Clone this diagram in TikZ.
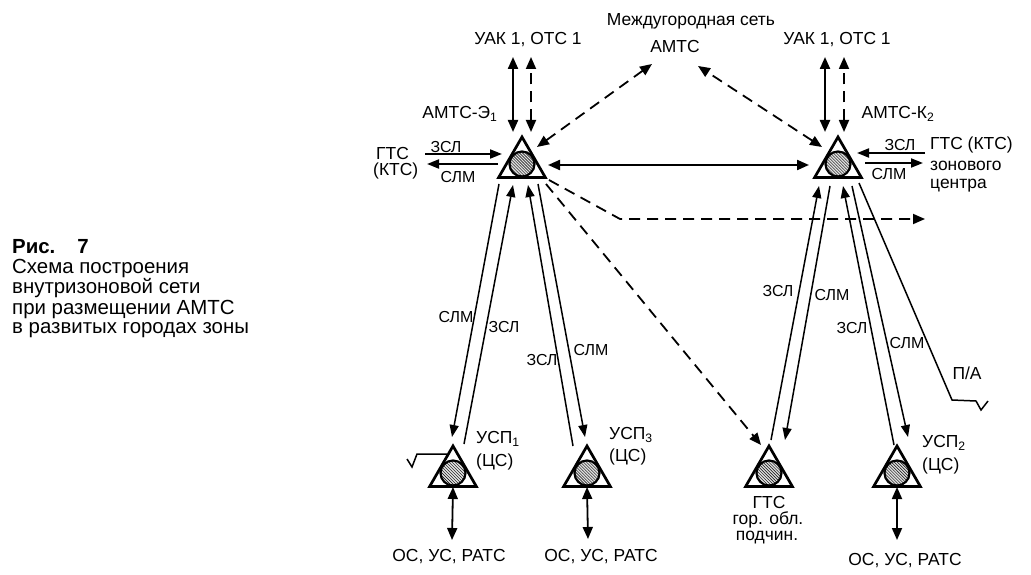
\documentclass[tikz,border=0pt]{standalone}
\usepackage{fontspec}
\setmainfont{Liberation Sans}
\usetikzlibrary{shapes.geometric,arrows.meta,patterns}
\newcommand\labfont{\fontsize{16}{18}\selectfont}
\newcommand\nodefont{\fontsize{17.5}{20}\selectfont}
\newcommand\capfont{\fontsize{20.5}{20}\selectfont}
\begin{document}
\begin{tikzpicture}[x=1bp,y=-1bp,
  station/.style={regular polygon, regular polygon sides=3, draw, line width=2.7bp, minimum size=54bp, inner sep=0pt},
  core/.style={circle, draw, line width=2.2bp, minimum size=25bp, inner sep=0pt, preaction={fill=gray!25}, pattern=north west lines},
  lnk/.style={line width=1.5bp, -{Triangle[length=12bp,width=9bp]}},
  pln/.style={line width=1.5bp},
  blnk/.style={line width=2.2bp, {Triangle[length=12bp,width=10bp]}-{Triangle[length=12bp,width=10bp]}},
  dlnk/.style={line width=1.8bp, dash pattern=on 11bp off 7bp},
  ddlnk/.style={dlnk, {Triangle[length=12bp,width=10bp]}-{Triangle[length=12bp,width=10bp]}},
  labtxt/.style={font=\labfont, inner sep=0pt},
  ntxt/.style={font=\nodefont, inner sep=0pt},
  captxt/.style={font=\capfont, inner sep=0pt, anchor=base west}]
\useasboundingbox (0,0) rectangle (1031,575);

% caption
\node[captxt] (c0) at (12,254) {\textbf{Рис.}\hspace{22bp}\textbf{7}};
\node[captxt] (c1) at (12,274) {Схема построения};
\node[captxt] (c2) at (12,294) {внутризоновой сети};
\node[captxt] (c3) at (12,314) {при размещении АМТС};
\node[captxt] (c4) at (12,333) {в развитых городах зоны};

% stations
\node[station] (E1) at (522,164) {};
\node[core] (E1c) at (522,164) {};
\node[station] (K2) at (838,164) {};
\node[core] (K2c) at (838,164) {};
\node[station] (U1) at (453,473) {};
\node[core] (U1c) at (453,473) {};
\node[station] (U3) at (587,473) {};
\node[core] (U3c) at (587,473) {};
\node[station] (G) at (769,473) {};
\node[core] (Gc) at (769,473) {};
\node[station] (U2) at (897,473) {};
\node[core] (U2c) at (897,473) {};

% texts
\node[ntxt] (mg) at (691,21) {Междугородная сеть};
\node[ntxt] (amts) at (675,47) {АМТС};
\node[ntxt] (uakE) at (528,40) {УАК 1, ОТС 1};
\node[ntxt] (uakK) at (837,40) {УАК 1, ОТС 1};
\node[ntxt] (nE1) at (460,114) {АМТС-Э\textsubscript{1}};
\node[ntxt] (nK2) at (898,114) {АМТС-К\textsubscript{2}};
\node[ntxt, anchor=west] (gtsL1) at (376,153) {ГТС};
\node[ntxt, anchor=west] (gtsL2) at (373,171) {(КТС)};
\node[ntxt, anchor=west] (gtsR1) at (930,145) {ГТС (КТС)};
\node[ntxt, anchor=west] (gtsR2) at (930,166) {зонового};
\node[ntxt, anchor=west] (gtsR3) at (930,186) {центра};
\node[ntxt, anchor=west] (nU1a) at (476,439) {УСП\textsubscript{1}};
\node[ntxt, anchor=west] (nU1b) at (476,462) {(ЦС)};
\node[ntxt, anchor=west] (nU3a) at (609,435) {УСП\textsubscript{3}};
\node[ntxt, anchor=west] (nU3b) at (609,457) {(ЦС)};
\node[ntxt, anchor=west] (nU2a) at (922,443) {УСП\textsubscript{2}};
\node[ntxt, anchor=west] (nU2b) at (922,466) {(ЦС)};
\node[ntxt] (nG1) at (769,502) {ГТС};
\node[ntxt] (nG2) at (768,520) {гор. обл.};
\node[ntxt] (nG3) at (767,538) {подчин.};
\node[ntxt] (os1) at (449,557) {ОС, УС, РАТС};
\node[ntxt] (os3) at (601,557) {ОС, УС, РАТС};
\node[ntxt] (os2) at (905,561) {ОС, УС, РАТС};
\node[ntxt] (pa) at (967,373) {П/А};

% link labels
\node[labtxt] (l1) at (446,147) {ЗСЛ};
\node[labtxt] (l2) at (458,177) {СЛМ};
\node[labtxt] (l3) at (900,145) {ЗСЛ};
\node[labtxt] (l4) at (889,174) {СЛМ};
\node[labtxt] (l5) at (456,317) {СЛМ};
\node[labtxt] (l6) at (504,327) {ЗСЛ};
\node[labtxt] (l7) at (542,360) {ЗСЛ};
\node[labtxt] (l8) at (591,350) {СЛМ};
\node[labtxt] (l9) at (778,291) {ЗСЛ};
\node[labtxt] (l10) at (832,295) {СЛМ};
\node[labtxt] (l11) at (852,328) {ЗСЛ};
\node[labtxt] (l12) at (907,343) {СЛМ};

% free ends
\coordinate (eS) at (513,57);
\coordinate (eD) at (531,57);
\coordinate (kS) at (825,57);
\coordinate (kD) at (844,57);
\coordinate (aL) at (652,64);
\coordinate (aR) at (698,66);
\coordinate (bend) at (620,219);
\coordinate (far) at (925,219);
\coordinate (lz) at (425,154);
\coordinate (ls) at (427,164);
\coordinate (rz) at (925,153);
\coordinate (rs) at (923,163);
\coordinate (o1) at (452,540);
\coordinate (o3) at (588,539);
\coordinate (o2) at (897,540);
\coordinate (pa1) at (952,400);
\coordinate (pa2) at (976,401);
\coordinate (pa3) at (981,410);
\coordinate (pa4) at (988,401);
\coordinate (tk1) at (417,454);
\coordinate (tk2) at (412,467);
\coordinate (tk3) at (407,459);

% top links
\draw[blnk] ([shift={(-9,-32)}]E1.center) -- (eS);
\draw[ddlnk] ([shift={(9,-32)}]E1.center) -- (eD);
\draw[blnk] ([shift={(-13,-32)}]K2.center) -- (kS);
\draw[ddlnk] ([shift={(6,-32)}]K2.center) -- (kD);
\draw[blnk] ([shift={(26,1)}]E1.center) -- ([shift={(-29,1)}]K2.center);
\draw[ddlnk] ([shift={(15,-17)}]E1.center) -- (aL);
\draw[ddlnk] ([shift={(-16,-17)}]K2.center) -- (aR);
\draw[dlnk, -{Triangle[length=12bp,width=10bp]}] ([shift={(27,16)}]E1.center) -- (bend) -- (far);
\draw[dlnk, -{Triangle[length=12bp,width=10bp]}] ([shift={(24,20)}]E1.center) -- ([shift={(-8,-28)}]G.center);

% side links
\draw[lnk, line width=1.8bp] (lz) -- ([shift={(-20,-10)}]E1.center);
\draw[lnk, line width=1.8bp] ([shift={(-24,0)}]E1.center) -- (ls);
\draw[lnk, line width=1.8bp] (rz) -- ([shift={(19,-11)}]K2.center);
\draw[lnk, line width=1.8bp] ([shift={(27,-1)}]K2.center) -- (rs);

% links down from E1
\draw[lnk] ([shift={(-23,20)}]E1.center) -- ([shift={(-1,-36)}]U1.center);
\draw[lnk] ([shift={(11,-29)}]U1.center) -- ([shift={(-9,21)}]E1.center);
\draw[lnk] ([shift={(-14,-27)}]U3.center) -- ([shift={(6,21)}]E1.center);
\draw[lnk] ([shift={(16,20)}]E1.center) -- ([shift={(-2,-36)}]U3.center);

% links down from K2
\draw[lnk] ([shift={(2,-33)}]G.center) -- ([shift={(-19,22)}]K2.center);
\draw[lnk] ([shift={(-8,22)}]K2.center) -- ([shift={(16,-33)}]G.center);
\draw[lnk] ([shift={(-3,-28)}]U2.center) -- ([shift={(5,22)}]K2.center);
\draw[lnk] ([shift={(14,22)}]K2.center) -- ([shift={(11,-36)}]U2.center);
\draw[pln] ([shift={(21,19)}]K2.center) -- (pa1) -- (pa2) -- (pa3) -- (pa4);
\draw[pln] ([shift={(-6,-19)}]U1.center) -- (tk1) -- (tk2) -- (tk3);

% bottom links
\draw[blnk, line width=1.8bp] ([shift={(0,14)}]U1.center) -- (o1);
\draw[blnk, line width=1.8bp] ([shift={(0,14)}]U3.center) -- (o3);
\draw[blnk, line width=1.8bp] ([shift={(0,14)}]U2.center) -- (o2);
\end{tikzpicture}
\end{document}
